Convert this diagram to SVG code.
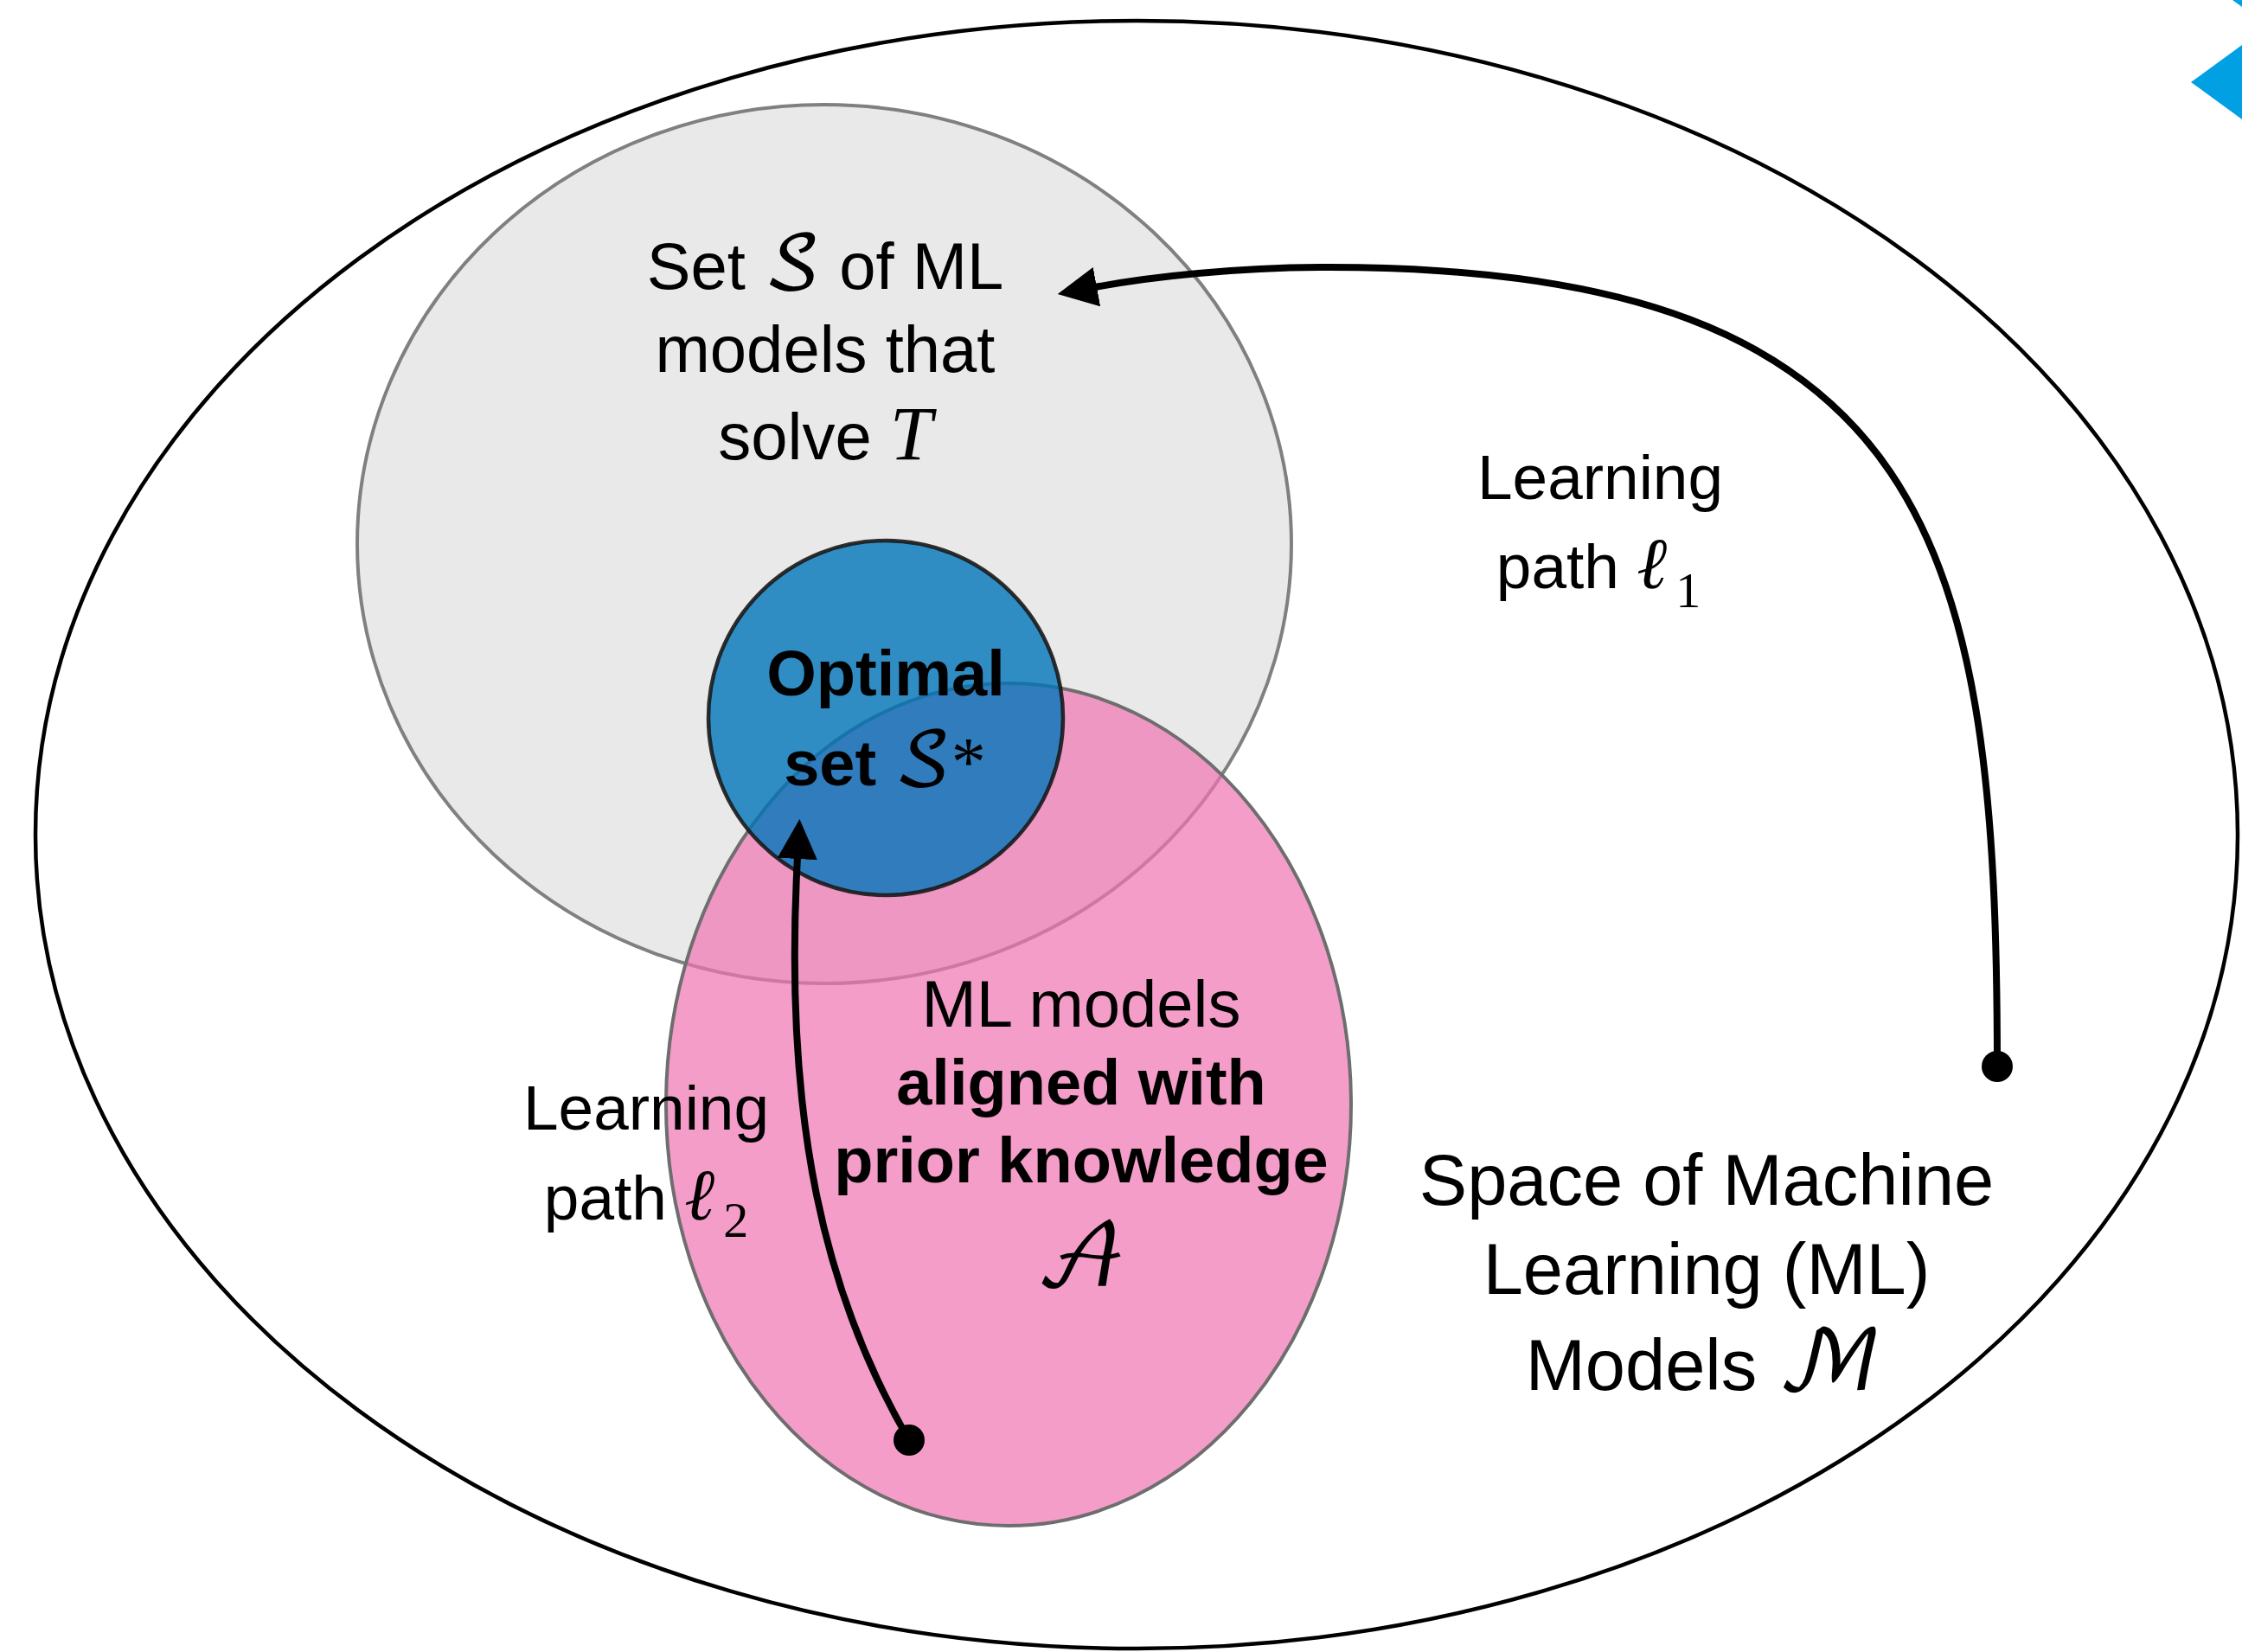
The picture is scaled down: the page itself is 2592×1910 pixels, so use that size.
<svg xmlns="http://www.w3.org/2000/svg" width="2592" height="1910" viewBox="0 0 2592 1910">
<defs>
<style>
.t{font-family:"Liberation Sans",Arial,Helvetica,sans-serif;fill:#000}
.r{font-size:76px}
.lbl{font-size:73px}
.big{font-size:83px}
.b{font-size:74px;font-weight:bold}
.m{font-family:"DejaVu Math TeX Gyre","STIX Two Math","DejaVu Serif",serif;font-weight:normal}
.it{font-family:"Liberation Serif","Times New Roman",serif;font-style:italic;font-weight:normal}
.sr{font-family:"Liberation Serif","Times New Roman",serif;font-weight:normal}
.conn{fill:none;stroke:#000;stroke-width:8}
</style>
<marker id="ah" markerUnits="userSpaceOnUse" markerWidth="46" markerHeight="46" viewBox="0 0 46 46" refX="2" refY="23" orient="auto">
<path d="M0,0 L46,23 L0,46 z" fill="#000"/>
</marker>
</defs>
<rect x="0" y="0" width="2592" height="1910" fill="#fff"/>

<g id="decor">
<polygon points="2533,95 2592,52 2592,138" fill="#00A0E3"/>
<polygon points="2581,0 2592,0 2592,8" fill="#00A0E3"/>
</g>

<g id="node-space">
<ellipse cx="1314" cy="965" rx="1273" ry="941" fill="none" stroke="#000" stroke-width="4.5"/>
<text class="t big" text-anchor="middle" x="1973" y="1393">Space of Machine</text>
<text class="t big" text-anchor="middle" x="1973" y="1496">Learning (ML)</text>
<text class="t big" text-anchor="middle" x="1970" y="1607">Models <tspan class="m" font-size="96">ℳ</tspan></text>
</g>

<g id="node-S">
<ellipse cx="953" cy="629" rx="540" ry="508" fill="#E9E9E9" stroke="#808080" stroke-width="4"/>
<text class="t r" text-anchor="middle" x="954" y="334">Set <tspan class="m" font-size="86">𝒮</tspan> of ML</text>
<text class="t r" text-anchor="middle" x="954" y="430">models that</text>
<text class="t r" text-anchor="middle" x="954" y="531">solve <tspan class="it" font-size="88">T</tspan></text>
</g>

<g id="node-A">
<ellipse cx="1166" cy="1277" rx="396" ry="487" fill="#F073B0" fill-opacity="0.7" stroke="#6E6E6E" stroke-width="4"/>
<text class="t r" text-anchor="middle" x="1250" y="1187">ML models</text>
<text class="t b" text-anchor="middle" x="1250" y="1277">aligned with</text>
<text class="t b" text-anchor="middle" x="1250" y="1367">prior knowledge</text>
<text class="t m" text-anchor="middle" x="1250" y="1487" font-size="100">𝒜</text>
</g>

<g id="node-Sstar">
<circle cx="1024" cy="830" r="205" fill="#0075BA" fill-opacity="0.8" stroke="#1A1A1A" stroke-opacity="0.9" stroke-width="4.5"/>
<text class="t b" text-anchor="middle" x="1024" y="804">Optimal</text>
<text class="t b" text-anchor="middle" x="1023" y="908">set <tspan class="m" font-size="86">𝒮</tspan><tspan class="sr" font-size="80">*</tspan></text>
</g>

<g id="connectors">
<path id="l1" class="conn" d="M2309,1233 C2309,633 2237,309 1537,309 C1430,309 1330,320 1266,332" marker-end="url(#ah)"/>
<circle cx="2309" cy="1233" r="18" fill="#000"/>
<path id="l2" class="conn" d="M1051,1665 C955,1500 905,1300 922,991" marker-end="url(#ah)"/>
<circle cx="1051" cy="1665" r="18" fill="#000"/>
<text class="t lbl" text-anchor="middle" x="1850" y="577">Learning</text>
<text class="t lbl" text-anchor="middle" x="1848" y="680">path <tspan class="it" font-size="84">ℓ</tspan><tspan class="sr" font-size="58" dx="10" dy="22">1</tspan></text>
<text class="t lbl" text-anchor="middle" x="747" y="1306">Learning</text>
<text class="t lbl" text-anchor="middle" x="747" y="1410">path <tspan class="it" font-size="84">ℓ</tspan><tspan class="sr" font-size="58" dx="10" dy="20">2</tspan></text>
</g>
</svg>
